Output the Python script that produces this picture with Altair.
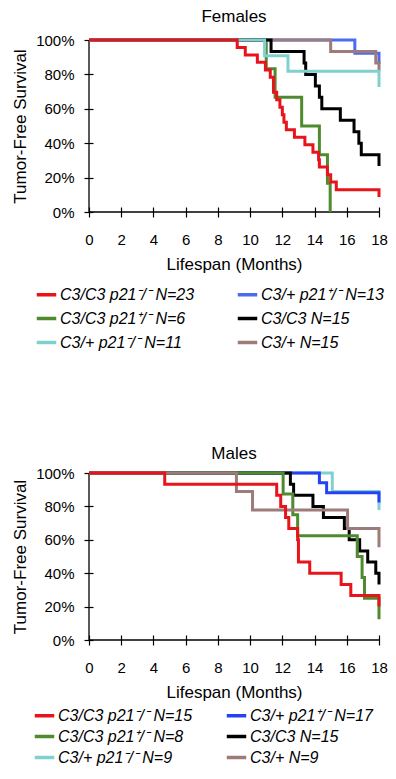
import altair as alt
import pandas as pd

FONT = "Liberation Sans"

x_ticks = [0, 2, 4, 6, 8, 10, 12, 14, 16, 18]
y_ticks = [0, 0.2, 0.4, 0.6, 0.8, 1.0]

# ---------------- Females ----------------
# legend order is column-major: red, green, cyan | blue, black, brown
f_labels = ["C3/C3 p21\u207b/\u207b N=23", "C3/C3 p21\u207a/\u207b N=6",
            "C3/+ p21\u207b/\u207b N=11", "C3/+ p21\u207a/\u207b N=13",
            "C3/C3 N=15", "C3/+ N=15"]
f_colors = ["#e8141c", "#4f8b2e", "#80d0d0", "#4d6bf0", "#000000", "#9c7b79"]

f_red_t = [0, 9.2, 9.7, 10.45, 10.95, 11.25, 11.45, 11.65, 11.85, 12.0, 12.1, 12.25,
           12.75, 13.4, 13.9, 14.25, 14.3, 14.8, 15.0, 15.35, 18, 18]
f_red_v = [100, 95.7, 91.3, 87.0, 82.6, 78.3, 69.6, 65.2, 60.9, 56.5, 52.2, 47.8,
           43.5, 39.1, 34.8, 30.4, 26.1, 21.7, 17.4, 13.0, 13.0, 8.7]
f_green_t = [0, 11.0, 11.55, 13.2, 14.3, 14.8, 14.97]
f_green_v = [100, 83.3, 66.7, 50.0, 33.3, 16.7, 0]
f_cyan_t = [0, 10.9, 12.35, 18, 18]
f_cyan_v = [100, 90.9, 81.8, 81.8, 72.7]
f_blue_t = [0, 16.5, 18, 18]
f_blue_v = [100, 92.3, 92.3, 86.0]
f_black_t = [0, 11.3, 13.35, 13.45, 14.05, 14.3, 14.45, 15.6, 16.45, 16.75, 16.9, 18, 18]
f_black_v = [100, 93.3, 86.7, 80.0, 73.3, 66.7, 60.0, 53.3, 46.7, 40.0, 33.3, 33.3, 26.7]
f_brown_t = [0, 15.0, 17.8, 18, 18]
f_brown_v = [100, 93.3, 86.7, 86.7, 82.0]

# ---------------- Males ----------------
m_labels = ["C3/C3 p21\u207b/\u207b N=15", "C3/C3 p21\u207a/\u207b N=8",
            "C3/+ p21\u207b/\u207b N=9", "C3/+ p21\u207a/\u207b  N=17",
            "C3/C3 N=15", "C3/+ N=9"]
m_colors = ["#e8141c", "#4f8b2e", "#80d0d0", "#2540f5", "#000000", "#9c7b79"]

m_red_t = [0, 4.7, 11.65, 11.9, 12.2, 12.4, 12.95, 13.0, 13.7, 15.65, 16.25, 18, 18]
m_red_v = [100, 93.3, 86.7, 80.0, 73.3, 66.7, 60.0, 46.7, 40.0, 33.3, 26.7, 26.7, 20.0]
m_green_t = [0, 12.05, 12.65, 12.95, 16.65, 16.95, 17.1, 18, 18]
m_green_v = [100, 87.5, 75.0, 62.5, 50.0, 37.5, 25.0, 25.0, 12.5]
m_cyan_t = [0, 15.1, 18, 18]
m_cyan_v = [100, 88.9, 88.9, 77.8]
m_blue_t = [0, 14.3, 14.75, 18, 18]
m_blue_v = [100, 94.1, 88.2, 88.2, 82.4]
m_black_t = [0, 12.5, 12.7, 13.9, 14.55, 15.85, 16.15, 16.8, 17.3, 17.8, 18]
m_black_v = [100, 93.3, 86.7, 80.0, 73.3, 66.7, 60.0, 53.3, 46.7, 40.0, 33.3]
m_brown_t = [0, 9.15, 10.15, 16.05, 18, 18]
m_brown_v = [100, 88.9, 77.8, 66.7, 66.7, 55.6]


def build(series):
    rows = []
    for name, t, v in series:
        for i, (a, b) in enumerate(zip(t, v)):
            rows.append({"series": name, "month": a, "surv": b / 100.0, "idx": i})
    return pd.DataFrame(rows)


f_df = build([
    (f_labels[0], f_red_t, f_red_v), (f_labels[1], f_green_t, f_green_v),
    (f_labels[2], f_cyan_t, f_cyan_v), (f_labels[3], f_blue_t, f_blue_v),
    (f_labels[4], f_black_t, f_black_v), (f_labels[5], f_brown_t, f_brown_v),
])
m_df = build([
    (m_labels[0], m_red_t, m_red_v), (m_labels[1], m_green_t, m_green_v),
    (m_labels[2], m_cyan_t, m_cyan_v), (m_labels[3], m_blue_t, m_blue_v),
    (m_labels[4], m_black_t, m_black_v), (m_labels[5], m_brown_t, m_brown_v),
])

# drawing order (first drawn = bottom)
f_draw = [f_labels[1], f_labels[3], f_labels[5], f_labels[4], f_labels[2], f_labels[0]]
m_draw = [m_labels[2], m_labels[3], m_labels[4], m_labels[1], m_labels[5], m_labels[0]]


def panel(df, title, labels, colors, draw, w, h, lx, ly, rowpad, colpad, toff):
    xs = alt.Scale(domain=[0, 18], nice=False, zero=False)
    ys = alt.Scale(domain=[0, 1], nice=False)
    xaxis = alt.Axis(values=x_ticks, title="Lifespan (Months)", offset=-5, tickSize=10,
                     domain=False, grid=False, labelPadding=15, titlePadding=9,
                     labelFont=FONT, titleFont=FONT, labelFontSize=15, titleFontSize=17,
                     titleFontWeight="normal", labelColor="black", titleColor="black",
                     tickColor="black", tickWidth=1.2, labelFlush=False)
    yaxis = alt.Axis(values=y_ticks, format=".0%", title="Tumor-Free Survival", offset=-4,
                     tickSize=9, domain=False, grid=False, labelPadding=10, titlePadding=6,
                     labelFont=FONT, titleFont=FONT, labelFontSize=15, titleFontSize=17,
                     titleFontWeight="normal", labelColor="black", titleColor="black",
                     tickColor="black", tickWidth=1.2, labelFlush=False)
    color = alt.Color("series:N", scale=alt.Scale(domain=labels, range=colors),
                      legend=alt.Legend(title=None, orient="none", legendX=lx, legendY=ly,
                                        columns=2, symbolType="stroke", symbolStrokeWidth=3.5,
                                        symbolSize=380, labelFont=FONT, labelFontSize=16,
                                        labelFontStyle="italic", labelColor="black",
                                        labelLimit=400, rowPadding=rowpad,
                                        columnPadding=colpad, labelOffset=2, padding=0))
    zero_df = pd.DataFrame({"zero": [0]})
    yline = alt.Chart(zero_df).mark_rule(color="black", strokeWidth=1.3).encode(
        x=alt.X("zero:Q", scale=xs, axis=xaxis))
    xline = alt.Chart(zero_df).mark_rule(color="black", strokeWidth=1.3).encode(
        y=alt.Y("zero:Q", scale=ys, axis=yaxis))
    lines = []
    for s in draw:
        lines.append(
            alt.Chart(df).transform_filter(alt.datum.series == s)
            .mark_line(interpolate="step-after", strokeWidth=3, strokeCap="butt")
            .encode(x=alt.X("month:Q", scale=xs, axis=xaxis),
                    y=alt.Y("surv:Q", scale=ys, axis=yaxis),
                    color=color, order="idx:Q")
        )
    return alt.layer(yline, xline, *lines).properties(
        width=w, height=h,
        title=alt.TitleParams(title, font=FONT, fontSize=17, fontWeight="normal",
                              color="black", offset=toff, anchor="middle"))


top = panel(f_df, "Females", f_labels, f_colors, f_draw, 290, 172, -54, 243, 4, 35, 7)
bottom = panel(m_df, "Males", m_labels, m_colors, m_draw, 290, 167, -56, 231, 1, 26, 3)

chart = alt.vconcat(top, bottom, spacing=94).resolve_scale(color="independent").properties(
    padding={"left": 3, "top": 0, "right": 0, "bottom": 0}
).configure_view(stroke=None)

chart.save("out.html", embed_options={"renderer": "svg", "actions": False})
